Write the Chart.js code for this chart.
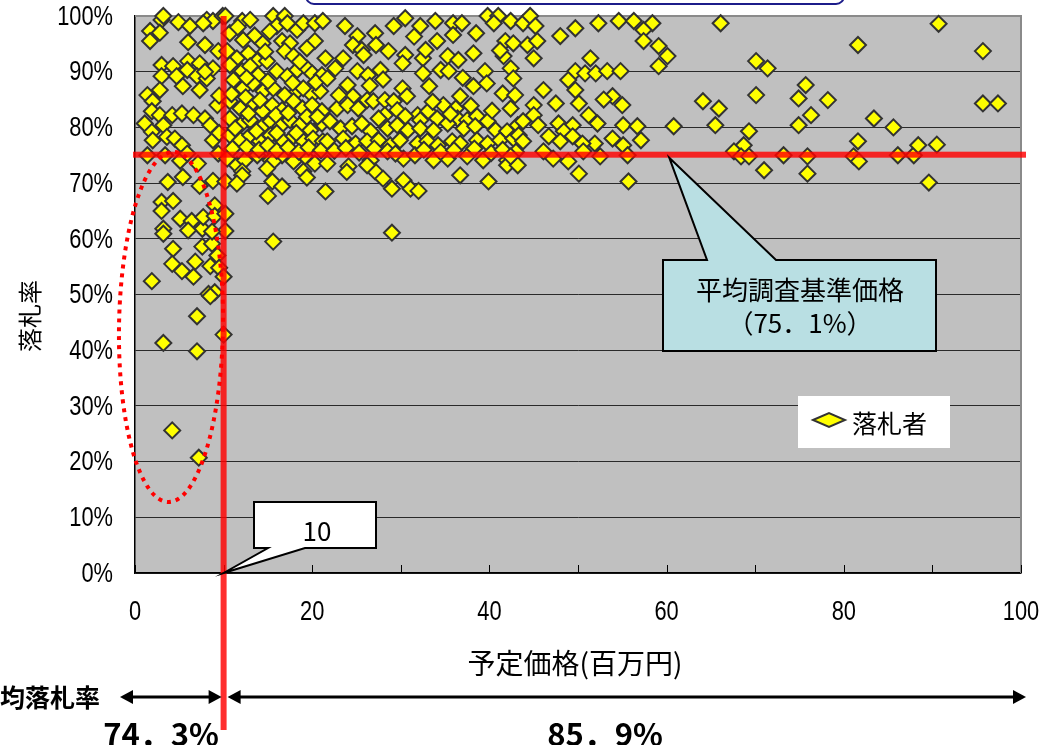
<!DOCTYPE html>
<html>
<head>
<meta charset="utf-8">
<script src="https://cdn.jsdelivr.net/npm/chart.js@4.4.1/dist/chart.umd.min.js"></script>
<style>
  html, body { margin: 0; padding: 0; background: #fff; overflow: hidden; }
</style>
</head>
<body>
<canvas id="bidChart" width="1042" height="745"></canvas>
<script>
// 予定価格（百万円）
var priceMillion = [
  1.7,3.0,3.2,2.8,1.7,4.9,6.2,6.0,7.9,8.1,8.8,7.7,9.9,9.4,3.0,4.3,3.0,4.7,6.0,5.9,
  7.3,7.0,8.1,8.8,7.9,5.4,7.3,2.8,1.4,2.0,1.9,2.8,4.2,5.3,6.6,7.9,8.5,9.3,9.5,1.1,
  1.9,3.2,3.6,4.5,5.3,2.0,8.8,9.5,1.4,3.4,5.1,5.9,7.1,9.4,3.7,5.4,7.3,8.8,3.0,4.3,
  3.0,5.1,6.4,7.6,7.7,9.0,9.0,3.2,3.2,6.0,7.6,8.7,4.3,4.2,5.3,6.8,6.6,8.5,9.3,9.5,
  1.9,8.3,9.0,8.5,7.0,10.0,3.2,7.0,4.2,7.2,10.2,10.2,10.2,10.0,8.7,
  10.2,12.1,13.0,15.6,16.9,16.0,17.2,18.3,19.0,20.3,21.2,20.3,10.7,12.2,14.4,16.6,17.5,16.9,17.9,10.4,
  11.5,12.8,13.8,10.7,12.1,13.0,13.9,14.9,16.0,17.2,18.3,19.4,20.0,21.1,11.1,12.2,13.3,14.5,15.6,16.9,
  18.3,19.0,20.0,20.9,10.7,11.9,13.2,14.4,15.5,16.6,17.9,18.9,20.0,21.1,10.7,11.9,13.0,14.4,15.3,16.4,
  17.5,18.6,19.8,21.1,10.7,11.9,13.0,14.1,15.3,16.6,17.9,19.0,20.1,21.2,10.4,11.5,12.4,13.8,15.3,16.6,
  17.9,19.2,20.3,12.1,15.6,19.0,12.1,11.5,14.9,15.5,16.6,15.0,19.4,21.5,15.6,
  11.0,12.6,14.0,15.0,16.0,17.3,18.5,19.6,21.0,10.9,12.5,14.1,15.9,17.3,19.4,13.7,16.0,18.2,20.6,11.3,
  12.8,12.6,15.0,17.8,20.4,13.5,15.2,11.6,14.7,19.4,21.5,18.6,
  23.7,25.1,27.1,29.2,30.5,32.2,33.9,35.9,36.9,35.9,39.8,41.0,40.5,42.4,24.6,25.6,25.8,28.6,30.5,30.2,
  32.5,32.8,34.1,35.3,36.5,38.2,41.8,42.7,41.6,22.6,21.7,25.1,26.3,27.7,32.5,34.5,35.4,39.5,42.4,42.7,
  24.0,24.6,30.2,30.7,38.2,36.7,41.5,42.9,22.8,24.0,25.2,26.2,26.9,28.2,29.2,28.2,29.6,31.9,32.2,33.1,
  34.1,34.8,36.2,36.4,37.5,38.6,39.8,40.7,42.4,43.2,22.0,23.2,24.5,25.6,26.6,28.5,29.6,30.8,32.2,33.7,
  35.3,37.1,38.4,42.0,21.7,23.5,24.9,26.2,27.5,28.8,29.9,31.9,33.0,34.2,35.8,36.7,38.6,39.8,41.2,42.7,
  24.1,26.6,28.5,30.3,31.6,33.7,35.3,37.5,39.3,42.0,23.9,27.1,28.0,29.0,30.3,31.1,32.0,29.0,36.7,39.9,
  26.2,21.7,
  22.5,23.8,25.3,27.0,29.4,32.6,34.5,36.0,38.3,40.2,41.5,43.0,23.0,27.5,30.5,33.6,35.6,37.9,40.3,26.5,
  28.0,33.2,37.0,39.7,41.2,23.5,27.2,31.5,38.5,
  43.8,44.6,45.2,48.0,49.7,52.3,54.6,56.3,58.4,57.4,57.4,59.1,60.1,59.1,44.3,45.4,45.0,51.4,49.7,50.8,
  52.0,53.3,54.8,48.9,49.7,46.1,45.0,47.5,50.1,53.9,55.0,52.9,51.2,45.0,43.8,45.5,47.8,49.4,52.2,55.1,
  56.7,60.8,43.3,46.7,48.4,49.4,53.9,57.1,51.9,55.1,43.8,48.0,50.5,42.0,43.2,46.1,47.2,48.9,50.6,52.5,
  55.6,42.4,50.1,55.7,
  66.1,70.1,71.4,70.1,64.1,65.9,65.5,69.3,68.7,67.6,68.4,69.3,71.0,73.2,75.7,74.9,76.3,74.9,75.9,75.9,
  90.7,81.6,95.7,78.2,83.4,85.6,95.7,97.4,81.6,81.1,81.7,86.1,87.9,88.4,90.5,89.6
];

// 落札率（％）
var bidRate = [
  97.3,99.3,100,97.0,95.5,98.9,98.2,95.3,94.8,99.3,99.1,98.7,100,93.7,91.2,91.0,89.2,89.2,91.9,90.3,
  91.5,89.2,88.8,90.6,90.0,87.4,86.7,86.7,85.8,84.7,82.9,82.2,82.2,82.5,82.2,81.6,80.4,84.0,85.7,80.7,
  79.2,80.4,78.3,78.0,76.8,77.7,77.7,79.0,75.0,75.0,74.0,75.3,73.5,75.3,70.2,71.1,69.5,70.4,66.6,66.8,
  65.0,63.6,63.2,61.8,63.9,66.0,64.1,61.8,60.9,61.5,58.6,59.1,58.2,55.5,54.2,55.9,53.2,55.1,57.0,54.8,
  52.4,50.1,50.4,49.7,46.1,42.8,41.3,39.8,25.6,20.7,70.3,64.5,61.4,53.2,61.3,
  100,99.1,99.3,100,100,98.2,98.7,97.5,98.7,98.7,99.1,95.5,96.9,95.7,95.1,95.5,95.1,93.7,92.8,93.7,
  92.4,93.3,91.9,91.2,90.1,91.0,89.4,91.9,90.1,89.2,90.3,90.6,89.7,89.4,88.5,87.0,87.9,86.5,87.0,85.8,
  86.5,87.0,85.8,86.5,84.7,83.4,84.3,82.9,84.0,83.1,84.7,83.4,84.0,82.9,81.6,80.4,81.3,80.2,81.1,80.2,
  81.3,80.4,79.5,80.7,78.6,77.7,78.6,77.5,78.6,77.7,78.4,77.5,78.0,77.5,74.4,73.2,74.1,75.0,74.1,75.0,
  73.9,74.8,73.5,72.1,73.9,72.1,71.4,69.9,72.6,70.3,69.4,67.7,71.0,68.5,59.5,
  76.2,76.5,76.0,76.8,75.8,76.4,75.6,76.4,75.9,86.0,85.4,84.9,82.2,82.6,81.9,79.3,79.0,79.0,81.9,79.8,
  82.5,88.9,88.3,88.0,88.1,96.5,97.2,98.0,93.6,94.2,92.4,91.8,
  98.2,96.4,96.9,98.2,99.6,98.2,99.1,98.7,98.7,96.6,100,100,98.7,99.1,94.8,93.9,93.0,93.7,93.0,91.5,
  92.4,93.9,95.5,92.8,92.1,93.3,95.5,95.1,92.8,90.6,88.8,90.1,89.4,90.3,89.7,90.3,90.1,90.1,90.6,88.8,
  87.6,85.6,87.0,85.6,87.4,85.6,86.1,85.8,83.4,84.0,83.4,84.9,84.7,84.9,84.7,82.2,83.1,82.2,81.3,82.9,
  81.6,84.0,83.4,81.6,81.3,82.0,81.1,79.5,83.4,80.4,81.1,79.8,80.2,80.7,79.3,79.8,80.4,79.5,79.8,79.5,
  80.7,79.8,80.2,79.3,77.5,78.0,77.1,77.5,77.7,76.8,77.7,77.1,77.5,76.8,77.5,77.1,77.7,77.1,77.7,78.0,
  73.0,74.1,75.7,74.4,75.0,74.1,74.4,74.8,74.1,74.1,72.0,72.1,70.8,69.0,70.5,69.0,68.6,61.1,71.4,70.3,
  73.2,73.5,
  75.8,76.3,75.5,76.2,75.3,76.0,75.6,75.9,76.2,75.4,76.0,75.6,85.8,81.6,82.0,84.6,82.4,83.9,83.0,87.5,
  88.6,87.4,88.9,87.9,93.8,92.4,94.8,96.3,96.9,
  98.7,100,98.2,96.4,97.8,98.7,99.1,99.1,98.7,97.5,95.5,94.6,92.8,91.0,94.8,95.5,92.4,92.4,90.1,89.7,
  89.7,90.1,90.1,88.5,86.7,86.7,84.0,84.3,84.3,85.6,84.0,85.0,82.2,82.2,81.1,80.4,80.7,80.4,80.7,80.4,
  80.2,80.2,78.6,78.4,79.3,78.4,78.0,77.7,77.1,76.8,77.5,77.5,77.1,73.2,73.2,75.7,74.4,73.9,75.7,74.8,
  75.0,74.8,71.7,70.3,
  98.7,91.9,90.6,85.8,84.7,83.4,80.4,79.3,76.8,75.7,74.8,74.8,72.3,75.0,87.6,85.2,82.2,80.4,74.8,71.7,
  98.6,94.8,93.7,84.9,81.6,80.0,84.3,84.3,77.5,74.8,73.9,75.0,75.0,76.8,76.9,70.1
];

var xTickValues = [0, 20, 40, 60, 80, 100];
var yTickStep = 10;

var refPrice = 10;       // 予定価格 10百万円
var refRate = 75.1;      // 平均調査基準価格
var avgUnder = '74．3%';
var avgOver = '85．9%';

var points = [];
for (var i = 0; i < priceMillion.length; i++) {
  points.push({ x: priceMillion[i], y: bidRate[i] });
}

var jp = '"Noto Sans CJK JP", "Noto Sans", sans-serif';
var tickFont = '28px "Liberation Sans", Arial, sans-serif';

function narrowText(ctx, text, x, y, align) {
  ctx.save();
  ctx.translate(x, y);
  ctx.scale(0.78, 1);
  ctx.textAlign = align;
  ctx.fillText(text, 0, 0);
  ctx.restore();
}

function arrowLine(ctx, x1, x2, y) {
  var h = 13, w = 7;
  ctx.beginPath();
  ctx.moveTo(x1 + h - 2, y);
  ctx.lineTo(x2 - h + 2, y);
  ctx.stroke();
  ctx.beginPath();
  ctx.moveTo(x1, y); ctx.lineTo(x1 + h, y - w); ctx.lineTo(x1 + h, y + w); ctx.closePath();
  ctx.fill();
  ctx.beginPath();
  ctx.moveTo(x2, y); ctx.lineTo(x2 - h, y - w); ctx.lineTo(x2 - h, y + w); ctx.closePath();
  ctx.fill();
}

var decor = {
  id: 'decor',
  beforeDraw: function(chart) {
    var ctx = chart.ctx, a = chart.chartArea;
    ctx.save();
    ctx.fillStyle = '#ffffff';
    ctx.fillRect(0, 0, chart.width, chart.height);
    ctx.fillStyle = '#c0c0c0';
    ctx.fillRect(a.left, a.top, a.right - a.left, a.bottom - a.top);
    ctx.restore();
  },
  beforeDatasetsDraw: function(chart) {
    var ctx = chart.ctx, a = chart.chartArea, xs = chart.scales.x, ys = chart.scales.y;
    ctx.save();
    // top / right frame
    ctx.strokeStyle = '#8a8a8a';
    ctx.lineWidth = 2;
    ctx.beginPath();
    ctx.moveTo(a.left, a.top); ctx.lineTo(a.right, a.top); ctx.lineTo(a.right, a.bottom);
    ctx.stroke();
    // inner tick marks on the x axis
    ctx.strokeStyle = '#000';
    ctx.lineWidth = 1;
    for (var v = 0; v <= 100; v += 10) {
      var px = Math.round(xs.getPixelForValue(v)) + 0.5;
      ctx.beginPath();
      ctx.moveTo(px, a.bottom); ctx.lineTo(px, a.bottom - 8);
      ctx.stroke();
    }
    // tick labels
    ctx.fillStyle = '#000';
    ctx.font = tickFont;
    ctx.textBaseline = 'middle';
    ys.ticks.forEach(function(t) {
      narrowText(ctx, t.value + '%', 113, ys.getPixelForValue(t.value) + 1, 'right');
    });
    xTickValues.forEach(function(v) {
      narrowText(ctx, String(v), xs.getPixelForValue(v), 612, 'center');
    });
    ctx.restore();
  },
  afterDatasetsDraw: function(chart) {
    var ctx = chart.ctx, a = chart.chartArea, xs = chart.scales.x, ys = chart.scales.y;
    var rx = xs.getPixelForValue(refPrice);
    var ry = ys.getPixelForValue(refRate);
    ctx.save();

    // dotted ellipse around low bids
    ctx.strokeStyle = '#ff0000';
    ctx.lineWidth = 4;
    ctx.setLineDash([4, 5]);
    ctx.beginPath();
    ctx.ellipse(171, 327, 52, 175, 0.015, 0, Math.PI * 2);
    ctx.stroke();
    ctx.setLineDash([]);

    // red reference lines
    ctx.fillStyle = 'rgba(255,0,0,0.82)';
    ctx.fillRect(a.left - 2, ry - 3, a.right - a.left + 7, 6);
    ctx.fillRect(rx - 3, a.top, 6, 730 - a.top);

    // callout: 10
    var tipX = rx, tipY = ys.getPixelForValue(0);
    ctx.fillStyle = '#ffffff';
    ctx.strokeStyle = '#000';
    ctx.lineWidth = 2;
    ctx.beginPath();
    ctx.moveTo(254, 502); ctx.lineTo(376, 502); ctx.lineTo(376, 548);
    ctx.lineTo(305, 548); ctx.lineTo(tipX, tipY); ctx.lineTo(268, 548);
    ctx.lineTo(254, 548); ctx.closePath();
    ctx.fill(); ctx.stroke();
    ctx.fillStyle = '#000';
    ctx.font = '26px ' + jp;
    ctx.textAlign = 'center';
    ctx.textBaseline = 'middle';
    ctx.fillText('10', 317, 531);

    // callout: 平均調査基準価格
    var tx = xs.getPixelForValue(60.3);
    ctx.fillStyle = '#b9dfe3';
    ctx.beginPath();
    ctx.moveTo(663, 260); ctx.lineTo(707, 260); ctx.lineTo(tx, ry + 3);
    ctx.lineTo(776, 260); ctx.lineTo(936, 260); ctx.lineTo(936, 351);
    ctx.lineTo(663, 351); ctx.closePath();
    ctx.fill(); ctx.stroke();
    ctx.fillStyle = '#000';
    ctx.font = '26px ' + jp;
    ctx.fillText('平均調査基準価格', 800, 290);
    ctx.fillText('（75．1%）', 800, 323);

    // legend
    ctx.fillStyle = '#ffffff';
    ctx.fillRect(798, 396, 152, 52);
    ctx.fillStyle = '#ffff00';
    ctx.strokeStyle = '#333';
    ctx.lineWidth = 2;
    ctx.beginPath();
    ctx.moveTo(813, 420); ctx.lineTo(829, 413); ctx.lineTo(845, 420); ctx.lineTo(829, 427);
    ctx.closePath();
    ctx.fill(); ctx.stroke();
    ctx.fillStyle = '#000';
    ctx.textAlign = 'left';
    ctx.font = '25px ' + jp;
    ctx.fillText('落札者', 852, 423);
    ctx.restore();
  },
  afterDraw: function(chart) {
    var ctx = chart.ctx, xs = chart.scales.x;
    var rx = xs.getPixelForValue(refPrice);
    ctx.save();
    // partial title box at the top
    ctx.strokeStyle = '#1c1c8a';
    ctx.lineWidth = 2;
    ctx.beginPath();
    ctx.roundRect(306, -40, 538, 44, 8);
    ctx.stroke();

    // axis titles
    ctx.fillStyle = '#000';
    ctx.font = '28px ' + jp;
    ctx.textAlign = 'center';
    ctx.textBaseline = 'middle';
    ctx.fillText('予定価格(百万円)', 575, 663);
    ctx.font = '24px ' + jp;
    ctx.save();
    ctx.translate(30, 316);
    ctx.rotate(-Math.PI / 2);
    ctx.fillText('落札率', 0, 0);
    ctx.restore();

    // average bid rate arrows
    ctx.strokeStyle = '#000';
    ctx.fillStyle = '#000';
    ctx.lineWidth = 3;
    arrowLine(ctx, 120, rx - 2, 697);
    arrowLine(ctx, rx + 4, 1026, 697);
    ctx.font = 'bold 25px ' + jp;
    ctx.textAlign = 'right';
    ctx.fillText('平均落札率', 100, 697);
    ctx.textAlign = 'center';
    ctx.font = 'bold 31px ' + jp;
    ctx.fillText(avgUnder, 161, 734);
    ctx.fillText(avgOver, 605, 734);
    ctx.restore();
  }
};

var ctx = document.getElementById('bidChart');

var bidChart = new Chart(ctx, {
  type: 'scatter',
  data: {
    datasets: [{
      label: '落札者',
      data: points,
      pointStyle: 'rectRot',
      pointRadius: 8,
      pointHoverRadius: 8,
      pointBackgroundColor: '#ffff00',
      pointBorderColor: '#333333',
      pointBorderWidth: 2,
      clip: false
    }]
  },
  options: {
    responsive: false,
    animation: false,
    layout: { padding: { left: 0, top: 16, right: 21, bottom: 0 } },
    plugins: {
      legend: { display: false },
      tooltip: { enabled: false }
    },
    scales: {
      x: {
        type: 'linear',
        min: 0,
        max: 100,
        afterFit: function(scale) {
          scale.height = 172;
          scale.paddingLeft = 0;
          scale.paddingRight = 0;
        },
        grid: { display: false, drawTicks: false },
        border: { display: true, color: '#000', width: 1.5 },
        ticks: { display: false, stepSize: 20 }
      },
      y: {
        min: 0,
        max: 100,
        afterFit: function(scale) {
          scale.width = 135;
          scale.paddingTop = 0;
          scale.paddingBottom = 0;
        },
        grid: { color: '#2a2a2a', lineWidth: 1, drawTicks: false },
        border: { display: true, color: '#000', width: 1.5 },
        ticks: { display: false, stepSize: yTickStep }
      }
    }
  },
  plugins: [decor]
});
</script>
</body>
</html>
